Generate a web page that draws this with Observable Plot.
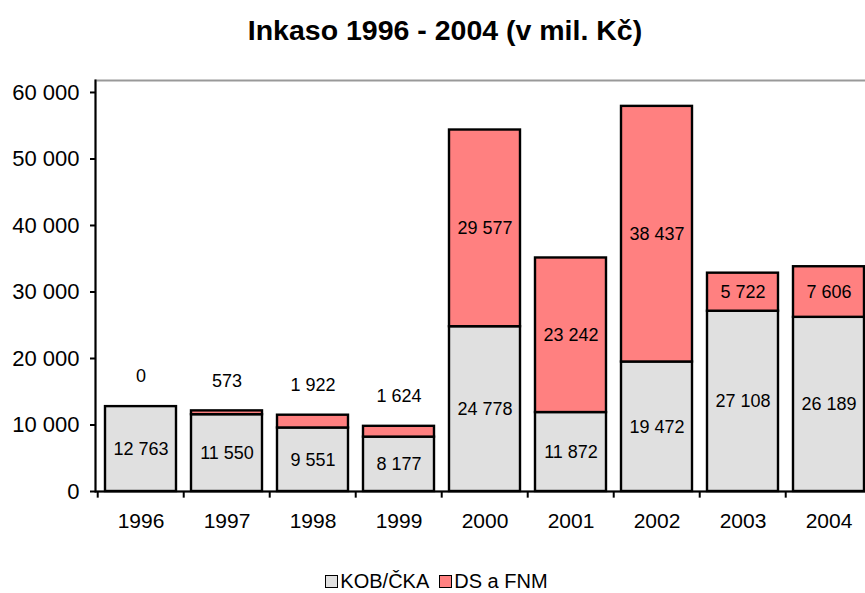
<!DOCTYPE html>
<html>
<head>
<meta charset="utf-8">
<script src="https://cdn.jsdelivr.net/npm/d3@7"></script>
<script src="https://cdn.jsdelivr.net/npm/@observablehq/plot@0.6"></script>
<style>
  html, body { margin: 0; padding: 0; background: #fff; }
  body { width: 865px; height: 593px; overflow: hidden; position: relative; font-family: "Liberation Sans", Arial, sans-serif; }
  #title { width: 890px; height: 60px; line-height: 60px; text-align: center; font-weight: bold; font-size: 28.5px; color: #000; }
  #chart { width: 880px; height: 476px; }
  #legend { width: 873px; display: flex; justify-content: center; align-items: center; padding-top: 34px; font-size: 20px; line-height: 22px; color: #000; }
  .sw { display: inline-block; width: 11px; height: 11px; border: 1.5px solid #000; margin-right: 2px; }
  .item { display: inline-flex; align-items: center; margin: 0 5px; }
</style>
</head>
<body>
<div id="title">Inkaso 1996 - 2004 (v mil. Kč)</div>
<div id="chart"></div>
<div id="legend"></div>
<script>
const years = ["1996", "1997", "1998", "1999", "2000", "2001", "2002", "2003", "2004"];
const series = ["KOB/ČKA", "DS a FNM"];
const kob = [12763, 11550, 9551, 8177, 24778, 11872, 19472, 27108, 26189];
const ds = [0, 573, 1922, 1624, 29577, 23242, 38437, 5722, 7606];
const yTicks = [0, 10000, 20000, 30000, 40000, 50000, 60000];
const colors = ["#e0e0e0", "#ff8080"];

const fmt = d3.formatLocale({thousands: " ", grouping: [3], decimal: ","}).format(",");

const rows = [];
years.forEach((y, i) => {
  rows.push({year: y, series: series[0], value: kob[i], base: 0});
  rows.push({year: y, series: series[1], value: ds[i], base: kob[i]});
});

const W = 880, ML = 95, MR = 6;
const step = (W - ML - MR) / years.length;

const kobRows = rows.filter(r => r.series === series[0]);
const dsRows = rows.filter(r => r.series === series[1]);
const dsInside = dsRows.filter(r => r.value >= 3000);
const dsAbove = dsRows.filter(r => r.value < 3000);

const plot = Plot.plot({
  width: W,
  height: 476,
  marginLeft: ML,
  marginRight: MR,
  marginTop: 20,
  marginBottom: 45,
  style: {fontFamily: "'Liberation Sans', Arial, sans-serif", color: "#000", background: "transparent", overflow: "visible"},
  x: {domain: years, paddingInner: 0.18, paddingOuter: 0.09, label: null},
  y: {domain: [0, 61800], label: null},
  color: {domain: series, range: colors},
  marks: [
    Plot.frame({stroke: "#999", strokeWidth: 2}),
    Plot.barY(rows.filter(r => r.value > 0), Plot.stackY({
      x: "year", y: "value", fill: "series", order: series,
      stroke: "#000", strokeWidth: 2.4
    })),
    Plot.ruleY([0], {stroke: "#000", strokeWidth: 2}),
    Plot.frame({anchor: "left", stroke: "#000", strokeWidth: 2}),
    Plot.ruleX(years, {x: d => d, dx: -step / 2, y1: 0, y2: -1000, stroke: "#000", strokeWidth: 2}),
    Plot.axisY({ticks: yTicks, tickFormat: fmt, tickSize: 5, tickPadding: 11, fontSize: 22, label: null, strokeWidth: 2}),
    Plot.axisX({tickSize: 0, tickPadding: 22, fontSize: 21, label: null}),
    Plot.text(kobRows, {x: "year", y: d => d.value / 2, text: d => fmt(d.value), fontSize: 18, fill: "#000"}),
    Plot.text(dsInside, {x: "year", y: d => d.base + d.value / 2, text: d => fmt(d.value), fontSize: 18, fill: "#000"}),
    Plot.text(dsAbove, {x: "year", y: d => d.base + d.value, dy: -30, text: d => fmt(d.value), fontSize: 18, fill: "#000"})
  ]
});
document.getElementById("chart").appendChild(plot);

const legend = document.getElementById("legend");
series.forEach((s, i) => {
  const item = document.createElement("span");
  item.className = "item";
  const sw = document.createElement("span");
  sw.className = "sw";
  sw.style.background = colors[i];
  item.appendChild(sw);
  item.appendChild(document.createTextNode(s));
  legend.appendChild(item);
});
</script>
</body>
</html>
